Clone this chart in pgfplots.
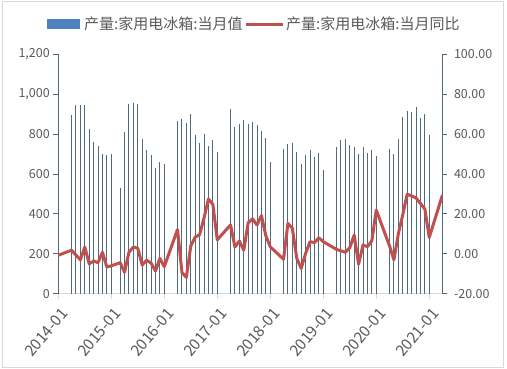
\documentclass[border=0pt]{standalone}
\usepackage{fontspec}
\setmainfont{Noto Sans CJK SC}
\usepackage{pgfplots}
\pgfplotsset{compat=1.18}
\definecolor{barcol}{RGB}{78,106,124}
\definecolor{legbar}{RGB}{79,129,189}
\definecolor{linecol}{RGB}{192,80,77}
\definecolor{axcol}{RGB}{80,105,120}
\definecolor{txtcol}{RGB}{89,89,89}
\definecolor{lightcol}{RGB}{217,217,217}
\begin{document}
\begin{tikzpicture}[x=1pt,y=1pt]
\path (0,0) rectangle (507,368);
\draw[lightcol, line width=0.8pt] (2.7,0.7) rectangle (503.3,366.3);
% legend
\fill[legbar] (46.7,339) rectangle (80,349);
\node[anchor=west, inner sep=0pt, text=txtcol, font=\fontsize{15}{17}\selectfont] at (84,344) {产量:家用电冰箱:当月值};
\draw[linecol, line width=3pt] (246,344) -- (283,344);
\node[anchor=west, inner sep=0pt, text=txtcol, font=\fontsize{15}{17}\selectfont] at (286,344) {产量:家用电冰箱:当月同比};
\begin{axis}[at={(58.3pt,74.2pt)}, anchor=south west, scale only axis,
  width=384.2pt, height=239.8pt,
  xmin=0, xmax=87, ymin=0, ymax=1200,
  axis y line*=left, axis x line*=bottom,
  x axis line style={-, draw=lightcol, line width=0.8pt},
  y axis line style={-, draw=axcol, line width=0.8pt},
  xtick={0,12,24,36,48,60,72,84},
  xticklabels={2014-01,2015-01,2016-01,2017-01,2018-01,2019-01,2020-01,2021-01},
  xtick style={draw=lightcol, line width=0.8pt},
  ytick={0,200,400,600,800,1000,1200},
  ytick style={draw=axcol, line width=0.8pt},
  tick align=outside, major tick length=5pt,
  /pgf/number format/assume math mode=true,
  xticklabel style={xshift=2pt, yshift=-8pt, rotate=50, anchor=north east, text=txtcol, font=\fontsize{15.5}{17}\selectfont, inner sep=0pt},
  yticklabel style={text=txtcol, font=\fontsize{12.5}{14}\selectfont, /pgf/number format/fixed, /pgf/number format/1000 sep={,}},
]
\addplot[ycomb, barcol, line width=1pt, mark=none] coordinates {
(3,896) (4,947) (5,943) (6,943) (7,827) (8,758) (9,741) (10,701) (11,694) (12,699)
(14,530) (15,810) (16,949) (17,953) (18,949) (19,775) (20,719) (21,694) (22,629) (23,660) (24,649)
(27,864) (28,874) (29,857) (30,899) (31,794) (32,756) (33,802) (34,739) (35,770) (36,710)
(39,923) (40,834) (41,850) (42,869) (43,851) (44,859) (45,844) (46,815) (47,780) (48,660)
(51,725) (52,749) (53,755) (54,709) (55,649) (56,697) (57,719) (58,684) (59,706) (60,622)
(63,734) (64,769) (65,775) (66,744) (67,734) (68,699) (69,734) (70,706) (71,718) (72,688)
(75,724) (76,699) (77,776) (78,885) (79,914) (80,909) (81,936) (82,879) (83,900) (84,794)
};
\end{axis}
\begin{axis}[at={(58.3pt,74.2pt)}, anchor=south west, scale only axis,
  width=384.2pt, height=239.8pt,
  xmin=0, xmax=87, ymin=-20, ymax=100,
  axis y line*=right, axis x line=none,
  y axis line style={-, draw=axcol, line width=0.8pt},
  ytick={-20,0,20,40,60,80,100},
  ytick style={draw=axcol, line width=0.8pt},
  tick align=outside, major tick length=5pt,
  /pgf/number format/assume math mode=true,
  yticklabel style={xshift=3pt, text=txtcol, font=\fontsize{12.5}{14}\selectfont, /pgf/number format/fixed, /pgf/number format/fixed zerofill, /pgf/number format/precision=2},
]
\addplot[linecol, line width=3pt, line join=round, mark=none] coordinates {
(0,-0.7) (3,1.8) (4,-0.6) (5,-3.0) (6,3.4) (7,-5.0) (8,-3.6) (9,-4.4) (10,0.8) (11,-6.6) (12,-6.0)
(14,-4.4) (15,-9.2) (16,0.8) (17,3.4) (18,2.8) (19,-5.6) (20,-3.2) (21,-4.6) (22,-8.6) (23,-2.3) (24,-6.4)
(27,12.2) (28,-9.4) (29,-11.8) (30,4) (31,8.4) (32,9.6) (33,18) (34,27.4) (35,24.8) (36,7)
(39,14.5) (40,3.4) (41,6.4) (42,1.8) (43,15.6) (44,17.5) (45,14.4) (46,19.2) (47,9) (48,3.5)
(51,-2.7) (52,15.2) (53,12.8) (54,-2.2) (55,-7.3) (56,0.2) (57,6.1) (58,5.6) (59,8) (60,6.1)
(63,2.2) (64,1.5) (65,0.8) (66,3) (67,9.4) (68,-5.2) (69,4.4) (70,3.6) (71,6.5) (72,21.9)
(75,4) (76,-3) (77,10) (78,19.5) (79,29.8) (80,29) (81,28) (82,25.2) (83,22.5) (84,8.2)
(87,29.5)
};
\end{axis}
\end{tikzpicture}
\end{document}
